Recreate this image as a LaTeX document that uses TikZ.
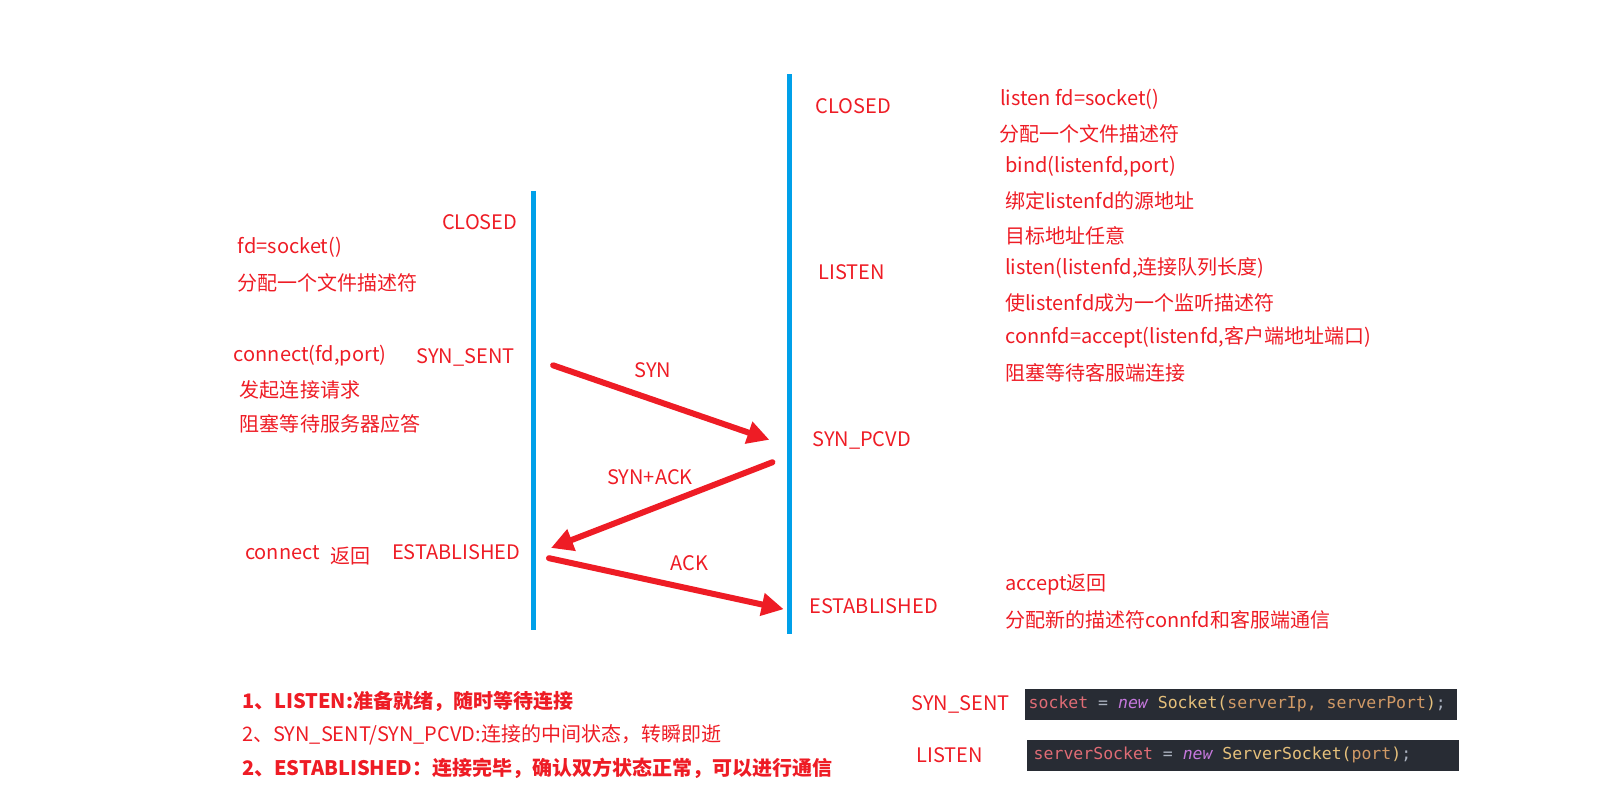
\documentclass[tikz,border=0pt]{standalone}
\usepackage{fontspec}
\setmainfont{Noto Sans CJK SC}
\newfontfamily\codefont{DejaVu Sans Mono}
\usetikzlibrary{arrows.meta}
\definecolor{tred}{HTML}{EE1C25}
\definecolor{tblue}{HTML}{00A0E9}
\definecolor{codebg}{HTML}{282C34}
\definecolor{cpink}{HTML}{E06C75}
\definecolor{cpurple}{HTML}{C678DD}
\definecolor{cyellow}{HTML}{E5C07B}
\definecolor{ctan}{HTML}{D19A66}
\definecolor{cgrey}{HTML}{ABB2BF}
\newcommand\csp{\hspace{0.602em}}
\tikzset{
  lbl/.style={text=tred, font=\fontsize{20}{23}\selectfont, inner sep=0pt, anchor=west},
  clbl/.style={text=tred, font=\fontsize{20}{23}\selectfont, inner sep=0pt},
  blbl/.style={text=tred, font=\fontsize{20}{23}\selectfont\bfseries, inner sep=0pt, anchor=west},
  life/.style={tblue, line width=5pt},
  msg/.style={tred, line width=6pt, line cap=round, -{Triangle[length=22pt,width=22pt]}},
  codebox/.style={fill=codebg, minimum width=432pt, minimum height=31pt, inner sep=0pt, anchor=west, font=\codefont\fontsize{16.5}{19}\selectfont}
}
\begin{document}
\begin{tikzpicture}[x=1.0204pt,y=-1.0204pt]
\useasboundingbox (0,0) rectangle (1568,784);
% lifelines
\coordinate (ltop) at (523,187);
\coordinate (lbot) at (523,617);
\coordinate (rtop) at (774,73);
\coordinate (rbot) at (774,621);
\draw[life] (ltop) -- (lbot);
\draw[life] (rtop) -- (rbot);
% messages
\coordinate (s1) at (542,358);
\coordinate (e1) at (754,431);
\coordinate (s2) at (757,453);
\coordinate (e2) at (540,537);
\coordinate (s3) at (538,547);
\coordinate (e3) at (768,597);
\draw[msg] (s1) -- (e1);
\draw[msg] (s2) -- (e2);
\draw[msg] (s3) -- (e3);
\node[clbl] (syn) at (640,363) {SYN};
\node[clbl] (synack) at (637,468) {SYN+ACK};
\node[clbl] (ack) at (676,552) {ACK};
% left side
\node[lbl] (lclosed) at (433,218) {CLOSED};
\node[lbl] (fd) at (233,242) {fd=socket()};
\node[lbl] (fd2) at (233,277) {分配一个文件描述符};
\node[lbl] (conn) at (229,348) {connect(fd,port)};
\node[lbl] (synsent) at (408,350) {SYN\_SENT};
\node[lbl] (conn2) at (235,382) {发起连接请求};
\node[lbl] (conn3) at (235,415) {阻塞等待服务器应答};
\node[lbl] (connret) at (240,542) {connect};
\node[lbl] (ret) at (324,545) {返回};
\node[lbl] (lest) at (384,541) {ESTABLISHED};
% right side states
\node[lbl] (rclosed) at (799,104) {CLOSED};
\node[lbl] (listen) at (802,267) {LISTEN};
\node[lbl] (synpcvd) at (796,432) {SYN\_PCVD};
\node[lbl] (rest) at (793,594) {ESTABLISHED};
% right notes
\node[lbl] (r1) at (980,97) {listen fd=socket()};
\node[lbl] (r2) at (979,131) {分配一个文件描述符};
\node[lbl] (r3) at (985,163) {bind(listenfd,port)};
\node[lbl] (r4) at (985,197) {绑定listenfd的源地址};
\node[lbl] (r5) at (985,231) {目标地址任意};
\node[lbl] (r6) at (985,263) {listen(listenfd,连接队列长度)};
\node[lbl] (r7) at (985,297) {使listenfd成为一个监听描述符};
\node[lbl] (r8) at (985,331) {connfd=accept(listenfd,客户端地址端口)};
\node[lbl] (r9) at (985,365) {阻塞等待客服端连接};
\node[lbl] (r10) at (985,573) {accept返回};
\node[lbl] (r11) at (985,607) {分配新的描述符connfd和客服端通信};
% bottom notes
\node[blbl] (b1) at (237,687) {1、LISTEN:准备就绪，随时等待连接};
\node[lbl] (b2) at (237,720) {2、SYN\_SENT/SYN\_PCVD:连接的中间状态，转瞬即逝};
\node[blbl] (b3) at (237,753) {2、ESTABLISHED：连接完毕，确认双方状态正常，可以进行通信};
% code
\node[lbl] (csyn) at (893,690) {SYN\_SENT};
\node[lbl] (clisten) at (898,740) {LISTEN};
\node[codebox] (code1) at (1004,690) {\makebox[432pt][l]{\hspace*{4pt}\textcolor{cpink}{socket}\csp\textcolor{cgrey}{=}\csp\textcolor{cpurple}{\itshape new}\csp\textcolor{cyellow}{Socket(}\textcolor{ctan}{serverIp,\csp serverPort}\textcolor{cyellow}{)}\textcolor{cgrey}{;}}};
\node[codebox] (code2) at (1006,740) {\makebox[432pt][l]{\hspace*{7pt}\textcolor{cpink}{serverSocket}\csp\textcolor{cgrey}{=}\csp\textcolor{cpurple}{\itshape new}\csp\textcolor{cyellow}{ServerSocket(}\textcolor{ctan}{port}\textcolor{cyellow}{)}\textcolor{cgrey}{;}}};
\end{tikzpicture}
\end{document}
